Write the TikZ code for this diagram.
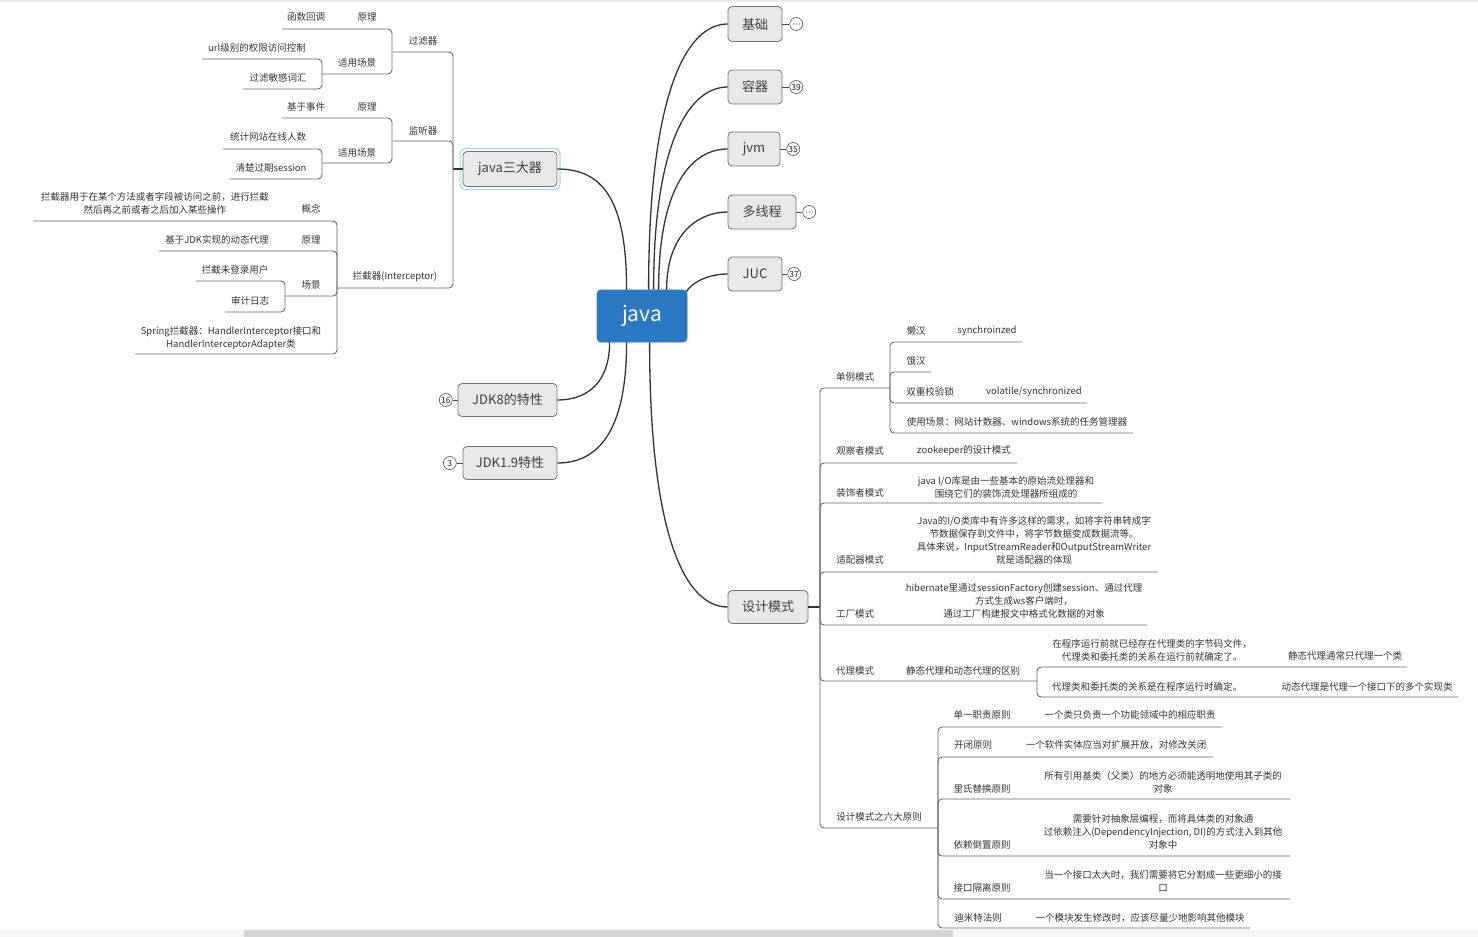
\documentclass[tikz,border=0pt]{standalone}
\usepackage{fontspec}
\setmainfont{Noto Sans CJK SC}
\usetikzlibrary{positioning}
\definecolor{javablue}{HTML}{2B79C2}
\definecolor{selblue}{HTML}{9ED8F7}
\tikzset{
  topic/.style={draw=black!55, fill=black!9, rounded corners=4pt, line width=0.8pt,
    text=black!75, inner sep=0pt, font=\fontsize{13}{15}\selectfont},
  lbl/.style={inner sep=0pt, text=black!80, align=center, yshift=-1pt, font=\fontsize{9.5}{13}\selectfont},
  badge/.style={circle, draw=black!70, fill=white, inner sep=0pt, minimum size=13pt,
    line width=0.6pt, text=black!85, font=\fontsize{8.5}{8.5}\selectfont},
  trunk/.style={draw=black!80, line width=1.3pt},
  stem/.style={draw=black!80, line width=1.8pt},
  br/.style={draw=black!60, line width=0.9pt, rounded corners=4pt}
}

\begin{document}
\begin{tikzpicture}[x=1pt, y=-1pt]
    \useasboundingbox (0,0) rectangle (1478,937);
    \fill[black!8] (0,0) rectangle (1478,2);
    \fill[black!4] (0,929) rectangle (1478,937);
    \fill[black!17] (244,930) rectangle (953,937);

    % main topics
    \node[topic, fill=javablue, draw=javablue, text=white, minimum width=90pt, minimum height=52pt,
      font=\fontsize{21}{24}\selectfont] (java) at (642,316) {\raisebox{-2pt}{java}};
    \node[topic, minimum width=54pt, minimum height=35pt] (jc) at (755,24) {基础};
    \node[topic, minimum width=54pt, minimum height=34pt] (rq) at (755,87) {容器};
    \node[topic, minimum width=52pt, minimum height=34pt] (jvm) at (754,149) {jvm};
    \node[topic, minimum width=68pt, minimum height=34pt] (dxc) at (762,212) {多线程};
    \node[topic, minimum width=54pt, minimum height=34pt] (juc) at (755,274) {JUC};
    \node[topic, minimum width=80pt, minimum height=33pt] (sjms) at (768,607) {设计模式};
    \node[topic, minimum width=94pt, minimum height=35pt] (sdq) at (510,169) {java三大器};
    \node[topic, minimum width=99pt, minimum height=33pt] (jdk8) at (507.5,400) {JDK8的特性};
    \node[topic, minimum width=94pt, minimum height=33pt] (jdk9) at (510,463) {JDK1.9特性};
    \draw[selblue, line width=1.2pt, rounded corners=5pt]
      ([shift={(-2.5pt,-2.5pt)}]sdq.south west) rectangle ([shift={(2.5pt,2.5pt)}]sdq.north east);

    % counters
    \node[badge, right=7pt of jc] (jcb) {};
    \node[badge, right=7pt of rq] (rqb) {39};
    \node[badge, right=6pt of jvm] (jvmb) {35};
    \node[badge, right=6pt of dxc] (dxcb) {};
    \node[badge, right=5pt of juc] (jucb) {37};
    \node[badge, left=5pt of jdk8] (jdk8b) {16};
    \node[badge, left=6pt of jdk9] (jdk9b) {3};
    \foreach \b in {jcb, dxcb}
        \foreach \dx in {-3,0,3}
            \fill[black!70] ([xshift=\dx pt]\b.center) circle (0.6pt);
    \foreach \a/\b in {jc/jcb, rq/rqb, jvm/jvmb, dxc/dxcb, juc/jucb}
        \draw[black!70, line width=0.6pt] (\a.east) -- (\b.west);
    \foreach \a/\b in {jdk8/jdk8b, jdk9/jdk9b}
        \draw[black!70, line width=0.6pt] (\a.west) -- (\b.east);

    % curves from the root
    \draw[trunk] ([xshift=52pt]java.north west) to[out=90, in=180, out distance=200pt, in distance=40pt] (jc.west);
    \draw[trunk] ([xshift=57pt]java.north west) to[out=90, in=180, out distance=150pt, in distance=37pt] (rq.west);
    \draw[trunk] ([xshift=62pt]java.north west) to[out=90, in=180, out distance=105pt, in distance=35pt] (jvm.west);
    \draw[trunk] ([xshift=70pt]java.north west) to[out=90, in=180, out distance=55pt, in distance=30pt] (dxc.west);
    \draw[trunk] ([xshift=-1pt,yshift=-2pt]java.north east) to[out=60, in=180, out distance=10pt, in distance=20pt] (juc.west);
    \draw[trunk] (sdq.east) to[out=0, in=90, out distance=45pt, in distance=90pt] ([xshift=30pt]java.north west);
    \draw[trunk] ([xshift=13pt]java.south west) to[out=-90, in=0, out distance=40pt, in distance=30pt] (jdk8.east);
    \draw[trunk] ([xshift=30pt]java.south west) to[out=-90, in=0, out distance=90pt, in distance=40pt] (jdk9.east);
    \draw[trunk] ([xshift=53pt]java.south west) to[out=-90, in=180, out distance=200pt, in distance=40pt] (sjms.west);

    % junctions
    \coordinate (sdqj) at (453,169);
    \coordinate (glqj) at (392,52);
    \coordinate (cj1j) at (322,74);
    \coordinate (jtqj) at (392,141);
    \coordinate (cj2j) at (322,163);
    \coordinate (ljqj) at (337,288);
    \coordinate (cj3j) at (285,296);
    \coordinate (sjmsj) at (820,607);
    \coordinate (dlj) at (890,388);
    \coordinate (dlmsj) at (1037,681);
    \coordinate (ldyzj) at (938,828);
    \draw[stem] (sdq.west) -- (sdqj);
    \draw[stem] (sjms.east) -- (sjmsj);

    % java三大器 branches
    \foreach \y/\e in {52/393, 141/393, 288/337} \draw[br] (sdqj) |- (\e,\y);
    \foreach \y/\e in {29/282, 74/322} \draw[br] (glqj) |- (\e,\y);
    \foreach \y/\e in {59/202, 89/243} \draw[br] (cj1j) |- (\e,\y);
    \foreach \y/\e in {118/282, 163/322} \draw[br] (jtqj) |- (\e,\y);
    \foreach \y/\e in {149/223, 179/229} \draw[br] (cj2j) |- (\e,\y);
    \foreach \y/\e in {221/33, 251/159, 296/285, 354/135} \draw[br] (ljqj) |- (\e,\y);
    \foreach \y/\e in {281/196, 312/225} \draw[br] (cj3j) |- (\e,\y);

    % 设计模式 branches
    \foreach \y/\e in {388/890, 463/1017, 503/1102, 572/1158, 625/1147, 681/1037, 828/938}
        \draw[br] (sjmsj) |- (\e,\y);
    \foreach \y/\e in {342/1022, 372/931, 403/1087, 433/1133} \draw[br] (dlj) |- (\e,\y);
    \foreach \y/\e in {667/1407, 697/1458} \draw[br] (dlmsj) |- (\e,\y);
    \foreach \y/\e in {727/1222, 757/1213, 799/1290, 856/1290, 899/1290, 928/1250}
        \draw[br] (ldyzj) |- (\e,\y);

    % labels, left
    \node[lbl] (glq) at (423,40) {过滤器};
    \node[lbl] (yl1) at (367,16) {原理};
    \node[lbl] (hd) at (306,16) {函数回调};
    \node[lbl] (cj1) at (357,62) {适用场景};
    \node[lbl] (url) at (257,47) {url级别的权限访问控制};
    \node[lbl] (mg) at (278,77) {过滤敏感词汇};
    \node[lbl] (jtq) at (423,130) {监听器};
    \node[lbl] (yl2) at (367,106) {原理};
    \node[lbl] (sj) at (306,106) {基于事件};
    \node[lbl] (cj2) at (357,152) {适用场景};
    \node[lbl] (tj) at (268,136) {统计网站在线人数};
    \node[lbl] (qc) at (271,167) {清楚过期session};
    \node[lbl] (ljq) at (395,276) {拦截器(Interceptor)};
    \node[lbl] (gn) at (311,208) {概念};
    \node[lbl] (gnt) at (155,202) {拦截器用于在某个方法或者字段被访问之前，进行拦截\\然后再之前或者之后加入某些操作};
    \node[lbl] (yl3) at (311,239) {原理};
    \node[lbl] (jdk) at (217,239) {基于JDK实现的动态代理};
    \node[lbl] (cj3) at (311,284) {场景};
    \node[lbl] (wdl) at (235,269) {拦截未登录用户};
    \node[lbl] (sjrz) at (250,300) {审计日志};
    \node[lbl] (spr) at (231,337) {Spring拦截器：HandlerInterceptor接口和\\HandlerInterceptorAdapter类};

    % labels, right
    \node[lbl] (dl) at (855,376) {单例模式};
    \node[lbl] (lh) at (916,330) {懒汉};
    \node[lbl] (lht) at (987,330) {synchroinzed};
    \node[lbl] (eh) at (916,360) {饿汉};
    \node[lbl] (sc) at (930,391) {双重校验锁};
    \node[lbl] (sct) at (1034,391) {volatile/synchronized};
    \node[lbl] (sycj) at (1017,421) {使用场景：网站计数器、windows系统的任务管理器};
    \node[lbl] (gcz) at (860,450) {观察者模式};
    \node[lbl] (gczt) at (964,450) {zookeeper的设计模式};
    \node[lbl] (zsz) at (860,492) {装饰者模式};
    \node[lbl] (zszt) at (1006,486) {java I/O库是由一些基本的原始流处理器和\\围绕它们的装饰流处理器所组成的};
    \node[lbl] (spq) at (860,559) {适配器模式};
    \node[lbl] (spqt) at (1034,539.5) {Java的I/O类库中有许多这样的需求，如将字符串转成字\\节数据保存到文件中，将字节数据变成数据流等。\\具体来说，InputStreamReader和OutputStreamWriter\\就是适配器的体现};
    \node[lbl] (gc) at (855,613) {工厂模式};
    \node[lbl] (gct) at (1024,600) {hibernate里通过sessionFactory创建session、通过代理\\方式生成ws客户端时，\\通过工厂构建报文中格式化数据的对象};
    \node[lbl] (dlms) at (855,670) {代理模式};
    \node[lbl] (qb) at (963,670) {静态代理和动态代理的区别};
    \node[lbl] (jt1) at (1152,649) {在程序运行前就已经存在代理类的字节码文件，\\代理类和委托类的关系在运行前就确定了。};
    \node[lbl] (jt2) at (1345,655) {静态代理通常只代理一个类};
    \node[lbl] (dt1) at (1147,686) {代理类和委托类的关系是在程序运行时确定。};
    \node[lbl] (dt2) at (1367,686) {动态代理是代理一个接口下的多个实现类};
    \node[lbl] (ldyz) at (879,816) {设计模式之六大原则};
    \node[lbl] (dy) at (982,714) {单一职责原则};
    \node[lbl] (dyt) at (1130,714) {一个类只负责一个功能领域中的相应职责};
    \node[lbl] (kb) at (973,744) {开闭原则};
    \node[lbl] (kbt) at (1116,744) {一个软件实体应当对扩展开放，对修改关闭};
    \node[lbl] (ls) at (982,788) {里氏替换原则};
    \node[lbl] (lst) at (1163,781) {所有引用基类（父类）的地方必须能透明地使用其子类的\\对象};
    \node[lbl] (yl) at (982,844) {依赖倒置原则};
    \node[lbl] (ylt) at (1163,831) {需要针对抽象层编程，而将具体类的对象通\\过依赖注入(DependencyInjection, DI)的方式注入到其他\\对象中};
    \node[lbl] (jk) at (982,887) {接口隔离原则};
    \node[lbl] (jkt) at (1163,880) {当一个接口太大时，我们需要将它分割成一些更细小的接\\口};
    \node[lbl] (dm) at (978,917) {迪米特法则};
    \node[lbl] (dmt) at (1140,917) {一个模块发生修改时，应该尽量少地影响其他模块};
\end{tikzpicture}
\end{document}
